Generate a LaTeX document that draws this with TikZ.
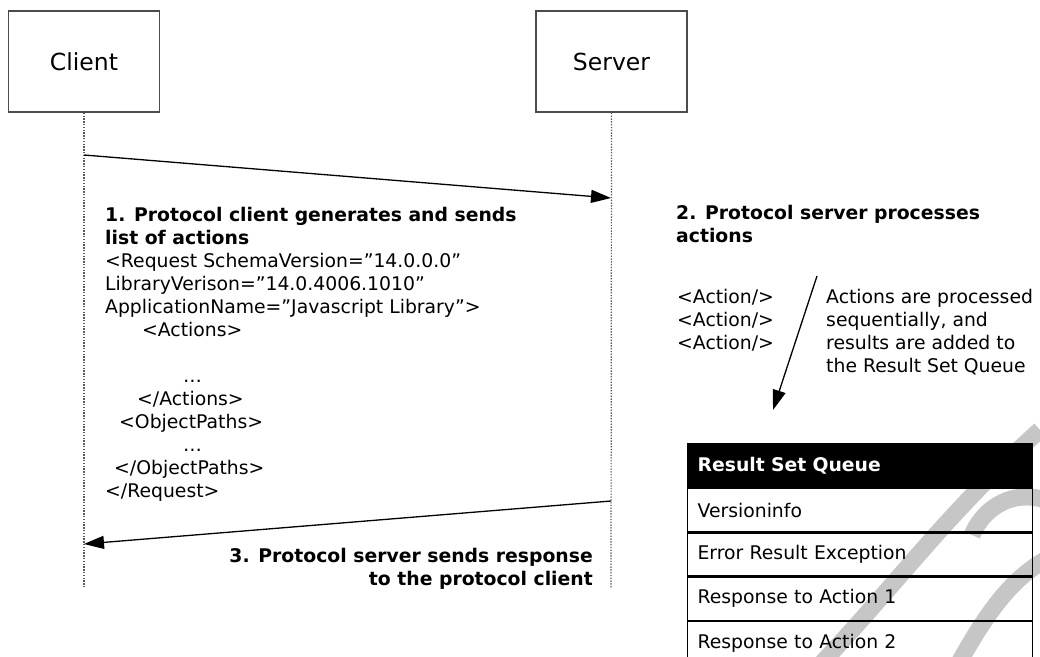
\documentclass[tikz,border=0pt]{standalone}
\usepackage{fontspec}
\setmainfont{DejaVu Sans}
\usetikzlibrary{positioning,arrows.meta,backgrounds}

\begin{document}
\begin{tikzpicture}[x=1pt, y=-1pt,
    every node/.style={inner sep=0pt, font=\fontsize{18.8}{23}\selectfont},
    lifebox/.style={draw=black!70, line width=1.5pt, minimum width=151pt,
        minimum height=101pt, font=\fontsize{23.5}{28}\selectfont},
    lifeline/.style={black!65, line width=1.2pt, dash pattern=on 1.4pt off 1.4pt},
    msg/.style={line width=1.3pt, -{Triangle[length=20pt,width=13pt]}},
    qrow/.style={draw, line width=1.2pt, minimum width=345pt, minimum height=43pt,
        text width=325pt, inner xsep=10pt, align=left, anchor=north west},
    wmark/.style={gray!45, line width=17pt}
  ]
  \useasboundingbox (0,0) rectangle (1040,656);

  % lifelines
  \node[lifebox] (client) at (84,61.5) {Client};
  \node[lifebox] (server) at (611.5,61.5) {Server};
  \coordinate (cend) at (84,588);
  \coordinate (send) at (611,588);
  \draw[lifeline] (client.south) -- (cend);
  \draw[lifeline] (server.south) -- (send);

  % messages
  \coordinate (m1a) at (84,155);
  \coordinate (m1b) at (611,198);
  \coordinate (m2a) at (611,501);
  \coordinate (m2b) at (84,544);
  \draw[msg] (m1a) -- (m1b);
  \draw[msg] (m2a) -- (m2b);

  % base of a multi-line node = baseline of its last line
  \node[anchor=base west, align=left] (request) at (105,497.5)
    {\textbf{1. Protocol client generates and sends}\\
     \textbf{list of actions}\\
     <Request SchemaVersion=”14.0.0.0"\\
     LibraryVerison=”14.0.4006.1010"\\
     ApplicationName=”Javascript Library”>\\
     \hspace*{37pt}<Actions>\\
     \mbox{}\\
     \hspace*{78pt}…\\
     \hspace*{32pt}</Actions>\\
     \hspace*{14pt}<ObjectPaths>\\
     \hspace*{78pt}…\\
     \hspace*{9pt}</ObjectPaths>\\
     </Request>};

  \node[anchor=base west, align=left] (process) at (676,242.5)
    {\textbf{2. Protocol server processes}\\ \textbf{actions}};
  \node[anchor=base west, align=left] (actions) at (677,349.5)
    {<Action/>\\ <Action/>\\ <Action/>};
  \node[anchor=base west, align=left] (seqnote) at (826,372.5)
    {Actions are processed\\ sequentially, and\\ results are added to\\ the Result Set Queue};
  \coordinate (p1) at (817,276);
  \coordinate (p2) at (773,410);
  \draw[msg] (p1) -- (p2);

  \node[anchor=base east, align=right] (response) at (593,585.5)
    {\textbf{3. Protocol server sends response}\\ \textbf{to the protocol client}};

  % result set queue
  \node[qrow, fill=black, text=white, minimum height=44pt,
    font=\fontsize{18.8}{23}\selectfont\bfseries] (qhead) at (687,443) {Result Set Queue};
  \node[qrow, below=0pt of qhead] (r1) {Versioninfo};
  \node[qrow, below=0pt of r1] (r2) {Error Result Exception};
  \node[qrow, below=0pt of r2] (r3) {Response to Action 1};
  \node[qrow, below=0pt of r3] (r4) {Response to Action 2};

  % watermark
  \begin{pgfonlayer}{background}
    \draw[wmark] (1040,430) .. controls (950,510) and (900,580) .. (820,665);
    \draw[wmark] (955,670) .. controls (985,615) and (1010,580) .. (1045,560);
    \draw[wmark] (972,535) .. controls (985,505) and (1015,490) .. (1045,500);
  \end{pgfonlayer}
\end{tikzpicture}
\end{document}
